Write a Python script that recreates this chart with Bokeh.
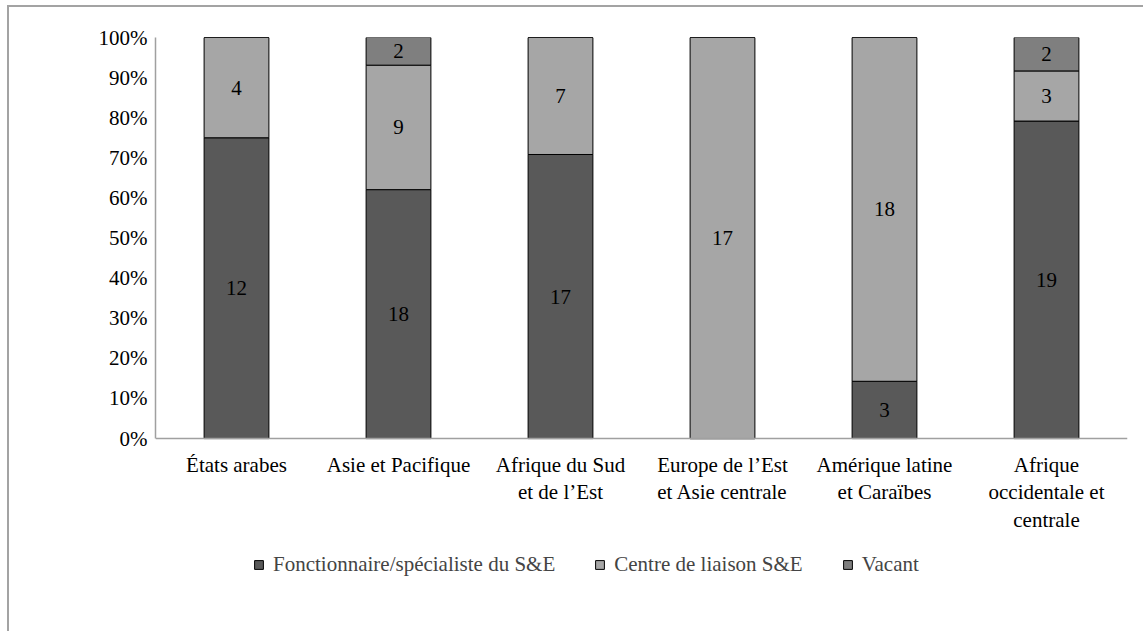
from bokeh.plotting import figure
from bokeh.models import ColumnDataSource, Legend, LegendItem, NumeralTickFormatter, FixedTicker, Range1d
from bokeh.core.properties import value
from bokeh.embed import file_html
from bokeh.resources import INLINE

# Regions (multi-line labels) and staff counts per role
regions = [
    "États arabes",
    "Asie et Pacifique",
    "Afrique du Sud\net de l’Est",
    "Europe de l’Est\net Asie centrale",
    "Amérique latine\net Caraïbes",
    "Afrique\noccidentale et\ncentrale",
]
fonctionnaire = [12, 18, 17, 0, 3, 19]
centre_liaison = [4, 9, 7, 17, 18, 3]
vacant = [0, 2, 0, 0, 0, 2]

series_names = ["Fonctionnaire/spécialiste du S&E", "Centre de liaison S&E", "Vacant"]
series_keys = ["fonc", "centre", "vacant"]
colors = ["#595959", "#a6a6a6", "#7f7f7f"]

FONT = "'Liberation Serif', 'Times New Roman', serif"
FSIZE = "21px"

totals = [a + b + c for a, b, c in zip(fonctionnaire, centre_liaison, vacant)]
counts = [fonctionnaire, centre_liaison, vacant]
shares = [[v / t for v, t in zip(s, totals)] for s in counts]

src = ColumnDataSource(dict(region=regions, fonc=shares[0], centre=shares[1], vacant=shares[2]))

# The frame reaches down to the bottom so the category axis and the legend
# can sit inside it; the value axis only spans 0..100 %.
p = figure(
    x_range=regions,
    y_range=Range1d(-0.461, 1),
    width=1136,
    height=626,
    output_backend="svg",
    toolbar_location=None,
    min_border_left=146,
    min_border_right=18,
    min_border_top=30,
    min_border_bottom=10,
)
p.styles = {
    "margin-left": "7px",
    "margin-top": "5px",
    "border-left": "2px solid #a3a3a3",
    "border-top": "2px solid #a3a3a3",
}

renderers = p.vbar_stack(
    series_keys,
    x="region",
    width=0.4,
    source=src,
    color=colors,
    line_color="black",
    line_width=1,
)

# Count labels centred in each non-empty segment
lx, ly, lt = [], [], []
for i, r in enumerate(regions):
    base = 0.0
    for s_counts, s_shares in zip(counts, shares):
        c = s_counts[i]
        h = s_shares[i]
        if c > 0:
            lx.append(r)
            ly.append(base + h / 2)
            lt.append(str(c))
        base += h
p.text(
    x=lx, y=ly, text=lt,
    text_font=value(FONT), text_font_size=FSIZE,
    text_align="center", text_baseline="middle", text_color="black",
)

p.xgrid.visible = False
p.ygrid.visible = False
p.outline_line_color = None

p.yaxis.ticker = FixedTicker(ticks=[i / 10 for i in range(11)])
p.yaxis.formatter = NumeralTickFormatter(format="0%")
p.yaxis.bounds = (0, 1)
p.xaxis.fixed_location = 0
for ax in (p.xaxis[0], p.yaxis[0]):
    ax.axis_line_color = "#a0a0a0"
    ax.axis_line_width = 1.5
    ax.major_tick_line_color = None
    ax.minor_tick_line_color = None
    ax.major_label_text_font = FONT
    ax.major_label_text_font_size = FSIZE
    ax.major_label_text_color = "black"
p.xaxis.major_label_text_line_height = 1.15
p.yaxis.major_label_standoff = 2
p.xaxis.major_label_standoff = 8
p.x_range.range_padding = 0.0

legend = Legend(
    items=[LegendItem(label=n, renderers=[r]) for n, r in zip(series_names, renderers)],
    orientation="horizontal",
    location=(98, 46),
    label_text_font=FONT,
    label_text_font_size=FSIZE,
    glyph_width=11,
    glyph_height=11,
    label_standoff=9,
    spacing=39,
    border_line_color=None,
    background_fill_alpha=0,
    margin=0,
    padding=6,
)
p.add_layout(legend, "center")

open("out.html", "w").write(file_html(p, INLINE))
